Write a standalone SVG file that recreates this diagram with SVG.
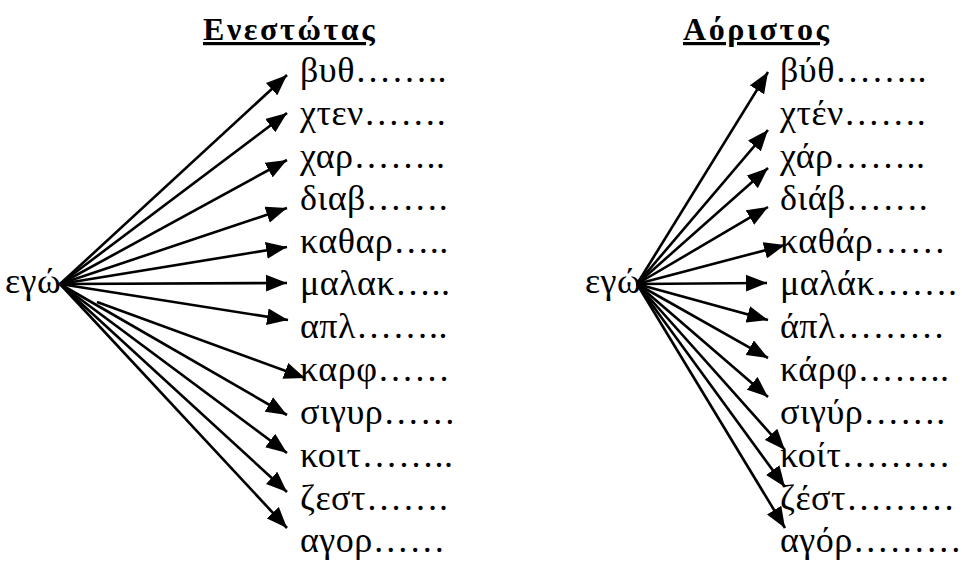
<svg xmlns="http://www.w3.org/2000/svg" width="962" height="561" viewBox="0 0 962 561">
<style>
text{font-family:"Liberation Serif","DejaVu Serif",serif;font-size:36px;letter-spacing:0.5px;fill:#000}
.title{font-weight:bold;font-size:32px;letter-spacing:2.6px;text-decoration:underline}
.arr line{stroke:#000;stroke-width:2.6;marker-end:url(#ah)}
</style>
<defs>
<marker id="ah" markerUnits="userSpaceOnUse" markerWidth="22" markerHeight="17" refX="20" refY="8" orient="auto" viewBox="0 0 21 16">
<path d="M0,0 L20,8 L0,16 Z" fill="#000"/>
</marker>
</defs>
<rect width="962" height="561" fill="#fff"/>
<g id="title-present"><text class="title" x="203" y="40">Ενεστώτας</text></g>
<g id="title-aorist"><text class="title" x="683" y="40">Αόριστος</text></g>
<g id="ego-left"><text x="5" y="293">εγώ</text></g>
<g id="ego-right"><text x="585" y="293">εγώ</text></g>
<g id="present-words">
<text x="300" y="82">βυθ……..</text>
<text x="300" y="125">χτεν…….</text>
<text x="300" y="168">χαρ……..</text>
<text x="300" y="210">διαβ…….</text>
<text x="300" y="253">καθαρ…..</text>
<text x="300" y="295">μαλακ…..</text>
<text x="300" y="338">απλ……..</text>
<text x="300" y="381">καρφ……</text>
<text x="300" y="424">σιγυρ……</text>
<text x="300" y="467">κοιτ……..</text>
<text x="300" y="510">ζεστ…….</text>
<text x="300" y="552">αγορ……</text>
</g>
<g id="aorist-words">
<text x="780" y="82">βύθ……..</text>
<text x="780" y="125">χτέν…….</text>
<text x="780" y="168">χάρ……..</text>
<text x="780" y="210">διάβ…….</text>
<text x="780" y="253">καθάρ……</text>
<text x="780" y="295">μαλάκ…….</text>
<text x="780" y="338">άπλ………</text>
<text x="780" y="381">κάρφ……..</text>
<text x="780" y="424">σιγύρ…….</text>
<text x="780" y="467">κοίτ………</text>
<text x="780" y="510">ζέστ………</text>
<text x="780" y="552">αγόρ………</text>
</g>
<g id="connectors" class="arr">
<line x1="60" y1="284" x2="287" y2="75"/>
<line x1="60" y1="284" x2="287" y2="113"/>
<line x1="60" y1="284" x2="287" y2="160"/>
<line x1="60" y1="284" x2="287" y2="208"/>
<line x1="60" y1="284" x2="287" y2="247"/>
<line x1="60" y1="284" x2="287" y2="283"/>
<line x1="60" y1="284" x2="288" y2="320"/>
<line x1="97" y1="302" x2="305" y2="378"/>
<line x1="60" y1="284" x2="287" y2="415"/>
<line x1="60" y1="284" x2="287" y2="453"/>
<line x1="60" y1="284" x2="287" y2="492"/>
<line x1="60" y1="284" x2="287" y2="528"/>
<line x1="637" y1="284" x2="768" y2="72"/>
<line x1="637" y1="284" x2="768" y2="130"/>
<line x1="637" y1="284" x2="768" y2="168"/>
<line x1="637" y1="284" x2="768" y2="207"/>
<line x1="637" y1="284" x2="785" y2="245"/>
<line x1="637" y1="284" x2="767" y2="283"/>
<line x1="637" y1="284" x2="768" y2="320"/>
<line x1="637" y1="284" x2="768" y2="358"/>
<line x1="637" y1="284" x2="768" y2="397"/>
<line x1="637" y1="284" x2="785" y2="450"/>
<line x1="637" y1="284" x2="785" y2="487"/>
<line x1="637" y1="284" x2="785" y2="528"/>
</g>
</svg>
